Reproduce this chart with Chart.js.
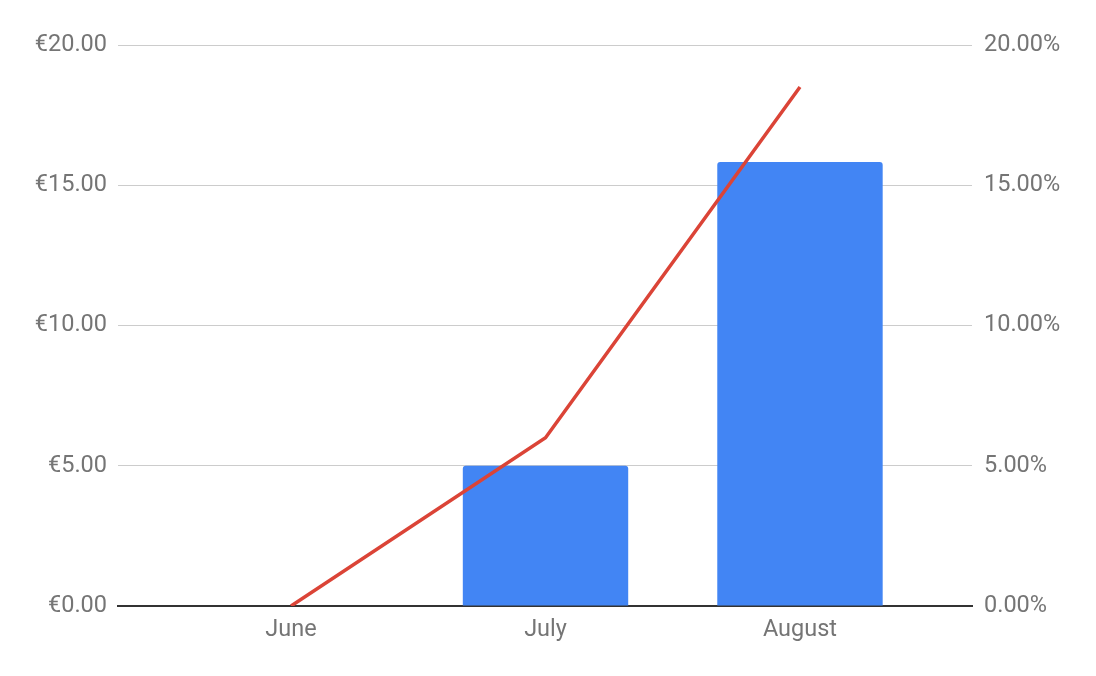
<!DOCTYPE html>
<html><head><meta charset="utf-8">
<script src="https://cdn.jsdelivr.net/npm/chart.js@4/dist/chart.umd.min.js"></script>
<style>html,body{margin:0;padding:0;background:#fff;}canvas{display:block;}</style>
</head><body>
<canvas id="c" width="1096" height="676"></canvas>
<script>
const categories = ['June', 'July', 'August'];
const revenue = [0, 5.0, 15.83];
const growthRate = [0, 0.06, 0.185];
const leftTicks = [0, 5, 10, 15, 20];
const rightTicks = [0, 0.05, 0.10, 0.15, 0.20];

const barData = categories.map((c, i) => ({x: i, y: revenue[i]}));
const lineData = categories.map((c, i) => ({x: i, y: growthRate[i]}));

const font = {family: 'Roboto', size: 23.5};
const tickColor = '#757575';

new Chart(document.getElementById('c'), {
  type: 'bar',
  data: {
    datasets: [
      {type: 'line', data: lineData, yAxisID: 'y1', borderColor: '#db4437', borderWidth: 3.5,
       pointRadius: 0, tension: 0, fill: false, order: 0},
      {type: 'bar', data: barData, yAxisID: 'y', backgroundColor: '#4285f4',
       categoryPercentage: 0.65, barPercentage: 1, borderRadius: 3, borderSkipped: 'bottom', order: 1}
    ]
  },
  options: {
    responsive: false,
    animation: false,
    layout: {padding: {top: 45, left: 0, right: 0, bottom: 0}},
    plugins: {legend: {display: false}, tooltip: {enabled: false}},
    scales: {
      x: {
        type: 'linear', min: -0.68, max: 2.676, offset: false, bounds: 'ticks',
        grid: {display: false, drawTicks: false},
        border: {display: true, color: '#333333', width: 2},
        afterBuildTicks: s => { s.ticks = categories.map((c, i) => ({value: i})); },
        afterFit: s => { s.height = 70; },
        ticks: {font, color: tickColor, padding: 10, autoSkip: false, maxRotation: 0,
                callback: v => categories[v]}
      },
      y: {
        position: 'left', min: 0, max: 20,
        afterBuildTicks: s => { s.ticks = leftTicks.map(v => ({value: v})); },
        afterFit: s => { s.width = 118; },
        grid: {color: '#cccccc', lineWidth: 1, drawTicks: false},
        border: {display: false},
        ticks: {font, color: tickColor, padding: 11, callback: v => '€' + Number(v).toFixed(2)}
      },
      y1: {
        position: 'right', min: 0, max: 0.20,
        afterBuildTicks: s => { s.ticks = rightTicks.map(v => ({value: v})); },
        afterFit: s => { s.width = 124; },
        grid: {display: false, drawTicks: false},
        border: {display: false},
        ticks: {font, color: tickColor, padding: 12, callback: v => (Number(v) * 100).toFixed(2) + '%'}
      }
    }
  }
});
</script>
</body></html>
